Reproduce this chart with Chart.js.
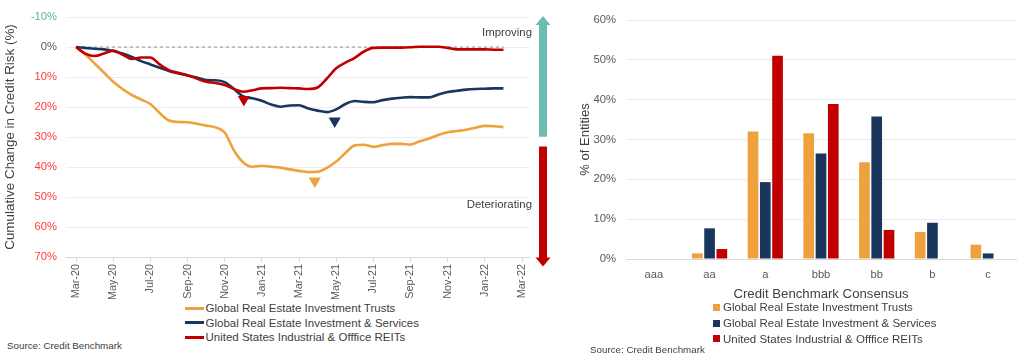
<!DOCTYPE html>
<html><head><meta charset="utf-8">
<script src="https://cdn.jsdelivr.net/npm/chart.js@4.4.1/dist/chart.umd.min.js"></script>
<style>
body{margin:0;background:#fff;font-family:"Liberation Sans",Arial,sans-serif;}
#wrap{position:relative;width:1024px;height:360px;overflow:hidden;background:#fff;}
#lbox{position:absolute;left:0;top:0;width:560px;height:300px;}
#rbox{position:absolute;left:575px;top:0;width:449px;height:302px;}
.legend{position:absolute;color:#404040;}
.legend .row{display:flex;align-items:center;white-space:nowrap;}
#lleg{left:185px;top:301px;font-size:11.5px;}
#lleg .row{height:14.5px;}
#lleg .sw{width:19px;height:3px;margin-right:1.5px;}
#rleg{left:713px;top:299.5px;font-size:11.5px;}
#rleg .row{height:15.7px;}
#rleg .sw{width:7px;height:7px;margin-right:3px;}
.src{position:absolute;color:#404040;white-space:nowrap;}
#lsrc{left:7px;top:340px;font-size:9.8px;}
#rsrc{left:590px;top:343.5px;font-size:9.8px;}
</style></head>
<body>
<div id="wrap">
  <div id="lbox"><canvas id="lc"></canvas></div>
  <div id="rbox"><canvas id="rc"></canvas></div>
  <div id="lleg" class="legend"></div>
  <div id="rleg" class="legend"></div>
  <div id="lsrc" class="src">Source: Credit Benchmark</div>
  <div id="rsrc" class="src">Source: Credit Benchmark</div>
</div>
<script>
// ---------- data ----------
const seriesNames = ['Global Real Estate Investment Trusts','Global Real Estate Investment & Services','United States Industrial & Offfice REITs'];
const seriesColors = ['#EEA13C','#1B365D','#C00000'];

// months since Mar-20
const months = [0,0.5,1,1.5,2,2.5,3,3.5,4,4.5,5,5.5,6,6.5,7,7.5,8,8.5,9,9.5,10,10.5,11,11.5,12,12.5,13,13.5,14,14.5,15,15.5,16,16.5,17,17.5,18,18.5,19,19.5,20,20.5,21,21.5,22,22.5,23];
const reitTrusts = [0,2.5,5.5,8.5,11.6,14,16,17.5,19,22,24.5,25,25.1,25.6,26.2,26.8,28.5,34.5,38.5,39.9,39.6,39.9,40.2,40.8,41.3,41.7,41.6,40.3,38.2,35.3,32.8,32.6,33.3,32.7,32.3,32.3,32.5,31.4,30.5,29.3,28.4,28,27.6,26.9,26.3,26.4,26.7];
const reitServices = [0,0.3,0.6,0.8,1.3,2.2,3.3,4.7,5.8,6.9,8,8.8,9.5,10.2,11,11.1,11.7,14,16.5,17.1,17.9,19.2,19.9,19.5,19.4,20.5,21.2,21.7,20.8,19,18,18.3,18.4,17.7,17.2,16.9,16.7,16.8,16.8,15.8,15,14.6,14.2,14.0,13.9,13.8,13.8];
const usReits = [0,2.2,3.0,2.2,1.2,2.5,4,3.5,3.5,5.8,7.7,8.6,9.4,10.5,11.6,12,12.7,14,14.9,14.4,13.8,13.7,13.6,13.7,13.8,14,13.5,10.5,7.1,5.2,3.6,1.5,0.3,0.2,0.2,0.2,0.1,-0.1,-0.1,-0.1,0.3,0.8,0.8,0.8,0.8,0.9,0.9];
const xTickLabels = ['Mar-20','May-20','Jul-20','Sep-20','Nov-20','Jan-21','Mar-21','May-21','Jul-21','Sep-21','Nov-21','Jan-22','Mar-22'];
const yTickValues = [-10,0,10,20,30,40,50,60,70];
// low-point markers (trusts, services, US)
const markerMonths = [12.85,13.92,9.03];
const markerValues = [44.7,24.7,17.5];
// zero reference line
const zeroRefMonths = [0,23];
const zeroRefValues = [0,0];

const ratingCategories = ['aaa','aa','a','bbb','bb','b','c'];
const barTrusts = [0,1.4,32.0,31.6,24.3,6.8,3.6];
const barServices = [0,7.7,19.3,26.5,35.8,9.1,1.4];
const barUS = [0,2.5,51.0,38.9,7.3,0,0];
const barYTicks = [0,10,20,30,40,50,60];

// ---------- helpers ----------
const FONT = '"Liberation Sans", Arial, sans-serif';
Chart.defaults.font.family = FONT;
Chart.defaults.color = '#595959';

function pts(xs, ys){ return xs.map((x,i)=>({x:x,y:ys[i]})); }

function drawArrow(ctx, cx, yStart, yTip, color){
  const dir = yTip < yStart ? -1 : 1;
  const shaftHalf = 4, headHalf = 7.5, headLen = 9;
  const yBase = yTip - dir*headLen;
  ctx.save();
  ctx.fillStyle = color;
  ctx.beginPath();
  ctx.moveTo(cx - shaftHalf, yStart);
  ctx.lineTo(cx - shaftHalf, yBase);
  ctx.lineTo(cx - headHalf, yBase);
  ctx.lineTo(cx, yTip);
  ctx.lineTo(cx + headHalf, yBase);
  ctx.lineTo(cx + shaftHalf, yBase);
  ctx.lineTo(cx + shaftHalf, yStart);
  ctx.closePath();
  ctx.fill();
  ctx.restore();
}

const annotPlugin = {
  id: 'annot',
  afterDraw(chart){
    const ctx = chart.ctx, a = chart.chartArea, y = chart.scales.y;
    const cx = a.right + 13;
    drawArrow(ctx, cx, y.getPixelForValue(29.9), y.getPixelForValue(-10.3), '#6BBDB2');
    drawArrow(ctx, cx, y.getPixelForValue(33.2), y.getPixelForValue(73.2), '#C00000');
    ctx.save();
    ctx.font = '11.4px ' + FONT;
    ctx.fillStyle = '#404040';
    ctx.textAlign = 'right';
    ctx.textBaseline = 'middle';
    ctx.fillText('Improving', a.right + 2, y.getPixelForValue(-4.8));
    ctx.fillText('Deteriorating', a.right + 2, y.getPixelForValue(52.7));
    ctx.restore();
  }
};

// ---------- left chart ----------
const lineDs = [reitTrusts, reitServices, usReits].map((arr,i)=>({
  label: seriesNames[i],
  data: pts(months, arr),
  borderColor: seriesColors[i],
  backgroundColor: seriesColors[i],
  borderWidth: 2.6,
  pointRadius: 0,
  cubicInterpolationMode: 'monotone',
  order: 3 - i
}));

new Chart(document.getElementById('lc'), {
  type: 'line',
  data: {
    datasets: [
      {
        label: 'zero',
        data: pts(zeroRefMonths, zeroRefValues),
        borderColor: '#A6A6A6',
        borderWidth: 1.3,
        borderDash: [3,3],
        pointRadius: 0,
        order: 10
      },
      ...lineDs,
      {
        label: 'markers',
        type: 'scatter',
        data: pts(markerMonths, markerValues),
        pointStyle: 'triangle',
        rotation: 180,
        pointRadius: 7,
        pointBackgroundColor: seriesColors,
        pointBorderColor: seriesColors,
        pointBorderWidth: 0,
        order: 0
      }
    ]
  },
  options: {
    responsive: true,
    maintainAspectRatio: false,
    animation: false,
    layout: { padding: { top: 17, right: 30, left: 0, bottom: 0 } },
    plugins: { legend: { display: false }, tooltip: { enabled: false } },
    scales: {
      x: {
        type: 'linear',
        min: -0.54,
        max: 24.43,
        grid: { drawOnChartArea: false, drawTicks: true, tickLength: 5, color: '#D9D9D9' },
        border: { color: '#D9D9D9' },
        ticks: {
          stepSize: 2,
          includeBounds: false,
          autoSkip: false,
          maxRotation: 90,
          minRotation: 90,
          padding: 2,
          font: { size: 10.8 },
          color: '#595959',
          callback: v => xTickLabels[Math.round(v/2)]
        },
        afterFit(s){ s.height = 43; }
      },
      y: {
        min: -10,
        max: 70,
        reverse: true,
        afterBuildTicks(s){ s.ticks = yTickValues.map(v=>({value:v})); },
        grid: { color: '#EDEDED', drawTicks: false },
        border: { display: false },
        ticks: {
          padding: 9,
          font: { size: 11.2 },
          color: ctx => ctx.tick.value < 0 ? '#5DB886' : (ctx.tick.value === 0 ? '#595959' : '#FF3B3B'),
          callback: v => v + '%'
        },
        title: {
          display: true,
          text: 'Cumulative Change in Credit Risk (%)',
          color: '#404040',
          font: { size: 13.4 },
          padding: { top: 2, bottom: 4 }
        },
        afterFit(s){ s.width = 66; }
      }
    }
  },
  plugins: [annotPlugin]
});

// ---------- right chart ----------
new Chart(document.getElementById('rc'), {
  type: 'bar',
  data: {
    labels: ratingCategories,
    datasets: [barTrusts, barServices, barUS].map((arr,i)=>({
      label: seriesNames[i],
      data: arr,
      backgroundColor: seriesColors[i],
      borderWidth: 0,
      categoryPercentage: 0.661,
      barPercentage: 0.87
    }))
  },
  options: {
    responsive: true,
    maintainAspectRatio: false,
    animation: false,
    layout: { padding: { top: 20, right: 8, left: 0, bottom: 0 } },
    plugins: { legend: { display: false }, tooltip: { enabled: false } },
    scales: {
      x: {
        grid: { display: false, drawTicks: false },
        border: { color: '#D9D9D9' },
        ticks: { padding: 9, font: { size: 11.2 }, color: '#595959' },
        title: {
          display: true,
          text: 'Credit Benchmark Consensus',
          color: '#404040',
          font: { size: 13.2 },
          padding: { top: 4, bottom: 0 }
        },
        afterFit(s){ s.height = 43; }
      },
      y: {
        min: 0,
        max: 60,
        afterBuildTicks(s){ s.ticks = barYTicks.map(v=>({value:v})); },
        grid: { color: '#EBEBEB', drawTicks: false },
        border: { display: false },
        ticks: { padding: 10, font: { size: 11.3 }, color: '#595959', callback: v => v + '%' },
        title: {
          display: true,
          text: '% of Entities',
          color: '#404040',
          font: { size: 13 },
          padding: { top: 3, bottom: 2 }
        },
        afterFit(s){ s.width = 51; }
      }
    }
  }
});

// ---------- HTML legends ----------
function buildLegend(id){
  const el = document.getElementById(id);
  seriesNames.forEach((n,i)=>{
    const row = document.createElement('div'); row.className = 'row';
    const sw = document.createElement('span'); sw.className = 'sw'; sw.style.background = seriesColors[i];
    const tx = document.createElement('span'); tx.textContent = n;
    row.appendChild(sw); row.appendChild(tx); el.appendChild(row);
  });
}
buildLegend('lleg');
buildLegend('rleg');
</script>
</body></html>
